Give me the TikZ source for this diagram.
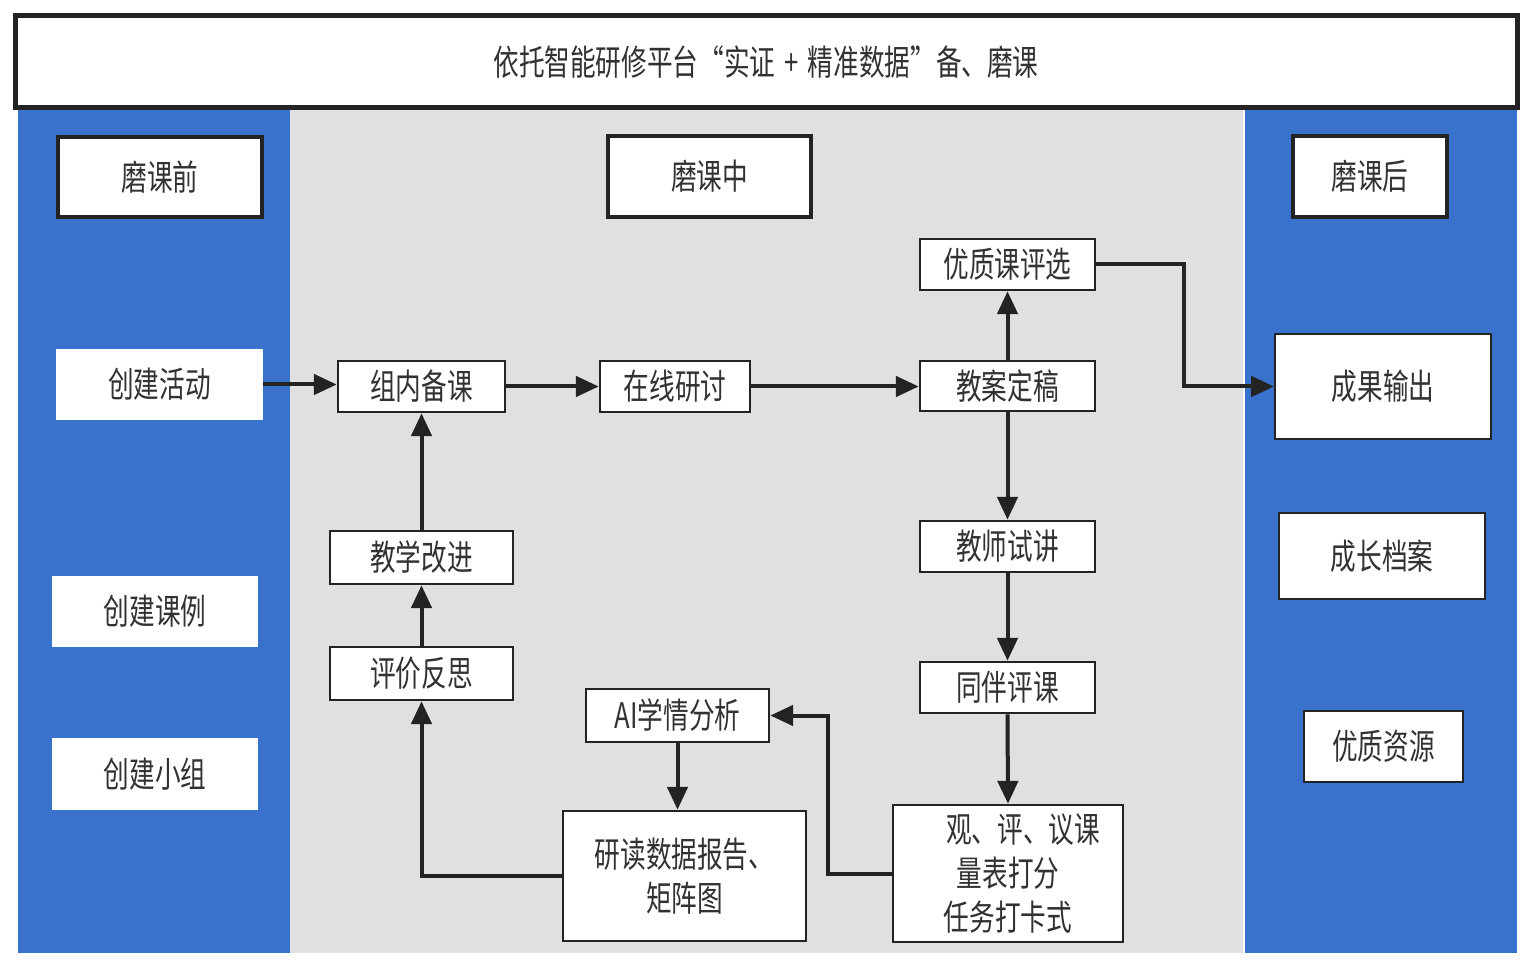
\documentclass[tikz,border=0pt]{standalone}
\usepackage{fontspec}
\setmainfont{Noto Sans CJK SC}[FakeStretch=0.73]
\usetikzlibrary{arrows.meta,calc}
\newlength\pu
\setlength\pu{0.02cm}
\definecolor{panelblue}{RGB}{56,114,204}
\definecolor{panelgray}{RGB}{224,224,224}
\definecolor{txt}{RGB}{50,50,50}
\definecolor{edge}{RGB}{35,35,35}
\tikzset{
  base/.style={font=\fontsize{20pt}{25pt}\selectfont, text=txt, align=center, inner sep=0pt},
  stage/.style={base, draw=edge, line width=4\pu, fill=white},
  plain/.style={base, fill=white},
  stepbox/.style={base, draw=edge, line width=2.6\pu, fill=white},
  outbox/.style={base, draw=edge, line width=2\pu, fill=white},
  flow/.style={draw=edge, line width=4\pu, -{Triangle[length=13pt,width=11.5pt]}},
}
\begin{document}
\begin{tikzpicture}[x=1\pu, y=-1\pu]
\useasboundingbox (0,0) rectangle (1530,972);
\fill[white] (0,0) rectangle (1530,972);
% panels
\fill[panelblue] (18,108) rectangle (290,953);
\fill[panelgray] (290,108) rectangle (1243,953);
\fill[panelblue] (1245,108) rectangle (1517,953);
% title
\node[base, draw=edge, line width=5\pu, fill=white, minimum width=1502\pu, minimum height=92\pu] (title) at (766,62) {依托智能研修平台“实证\hspace{9\pu}+\hspace{9\pu}精准数据”备、磨课};
% stage headers
\node[stage, minimum width=204\pu, minimum height=80\pu] (pre) at (160,177) {磨课前};
\node[stage, minimum width=203\pu, minimum height=81\pu] (mid) at (709.5,176.5) {磨课中};
\node[stage, minimum width=154\pu, minimum height=81\pu] (post) at (1370,176.5) {磨课后};
% left column
\node[plain, minimum width=207\pu, minimum height=71\pu] (hd) at (159.5,384.5) {创建活动};
\node[plain, minimum width=206\pu, minimum height=71\pu] (kl) at (155,611.5) {创建课例};
\node[plain, minimum width=206\pu, minimum height=72\pu] (xz) at (155,774) {创建小组};
% middle
\node[stepbox, minimum width=167\pu, minimum height=51\pu] (bk) at (421.5,386.5) {组内备课};
\node[stepbox, minimum width=150\pu, minimum height=51\pu] (zx) at (675,386.5) {在线研讨};
\node[stepbox, minimum width=175\pu, minimum height=50\pu] (dg) at (1007.5,386) {教案定稿};
\node[stepbox, minimum width=175\pu, minimum height=51\pu] (yz) at (1007.5,264.5) {优质课评选};
\node[stepbox, minimum width=175\pu, minimum height=51\pu] (sj) at (1007.5,546.5) {教师试讲};
\node[stepbox, minimum width=175\pu, minimum height=51\pu] (tb) at (1007.5,687.5) {同伴评课};
\node[stepbox, minimum width=230\pu, minimum height=137\pu] (gp) at (1008,873.5) {\hspace*{30\pu}观、评、议课\\量表打分\\任务打卡式};
\node[stepbox, minimum width=243\pu, minimum height=130\pu] (yd) at (684.5,876) {研读数据报告、\\矩阵图};
\node[stepbox, minimum width=183\pu, minimum height=53\pu] (ai) at (677.5,715.5) {AI学情分析};
\node[stepbox, minimum width=183\pu, minimum height=53\pu] (gj) at (421.5,557.5) {教学改进};
\node[stepbox, minimum width=183\pu, minimum height=53\pu] (fs) at (421.5,673.5) {评价反思};
% right column
\node[outbox, minimum width=216\pu, minimum height=105\pu] (cg) at (1383,386.5) {成果输出};
\node[outbox, minimum width=206\pu, minimum height=86\pu] (da) at (1382,556) {成长档案};
\node[outbox, minimum width=159\pu, minimum height=71\pu] (zy) at (1383.5,746.5) {优质资源};
% connectors
\draw[flow] (hd.east) -- (hd.east -| bk.west);
\draw[flow] (bk.east) -- (bk.east -| zx.west);
\draw[flow] (zx.east) -- (zx.east -| dg.west);
\draw[flow] (dg.north) -- (yz.south);
\draw[flow] (yz.east) -- ++(88,0) |- (cg.west);
\draw[flow] (dg.south) -- (sj.north);
\draw[flow] (sj.south) -- (tb.north);
\draw[flow] (tb.south) -- (gp.north);
\draw[flow] (gp.west) -- ++(-64,0) |- (ai.east);
\draw[flow] (ai.south) -- (ai.south |- yd.north);
\draw[flow] (yd.west) -| (fs.south);
\draw[flow] (fs.north) -- (gj.south);
\draw[flow] (gj.north) -- (bk.south);
\end{tikzpicture}
\end{document}
